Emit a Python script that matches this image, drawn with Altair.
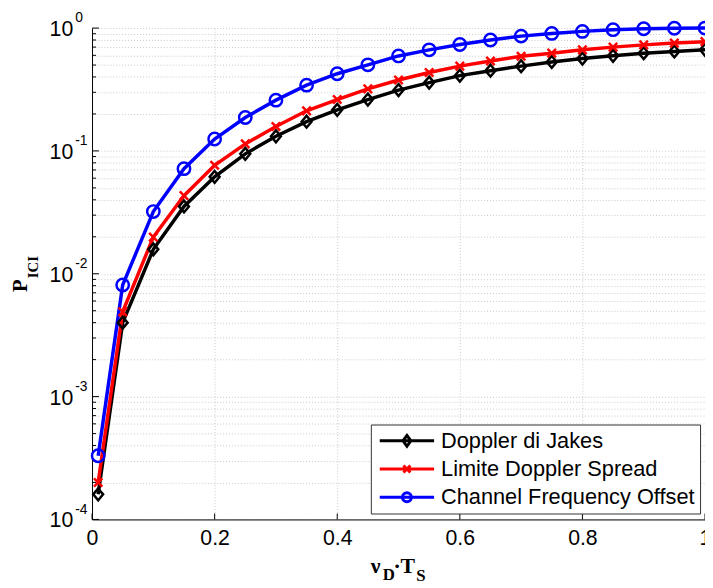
import altair as alt
import pandas as pd

# ---- data ----
nu = [0.01, 0.05, 0.10, 0.15, 0.20, 0.25, 0.30, 0.35, 0.40, 0.45, 0.50,
      0.55, 0.60, 0.65, 0.70, 0.75, 0.80, 0.85, 0.90, 0.95, 1.00]
jakes = [1.6e-4, 4.0e-3, 0.0158, 0.0353, 0.0615, 0.0947, 0.1315, 0.173, 0.216, 0.262, 0.313,
         0.360, 0.410, 0.450, 0.490, 0.530, 0.565, 0.595, 0.625, 0.645, 0.665]
limite = [2.0e-4, 4.9e-3, 0.0199, 0.0432, 0.0764, 0.114, 0.158, 0.212, 0.262, 0.320, 0.378,
          0.435, 0.490, 0.540, 0.590, 0.625, 0.665, 0.700, 0.730, 0.755, 0.775]
cfo = [3.3e-4, 8.1e-3, 0.0321, 0.0717, 0.125, 0.187, 0.259, 0.343, 0.425, 0.502, 0.593,
       0.665, 0.735, 0.800, 0.860, 0.905, 0.940, 0.970, 0.987, 0.997, 1.000]

series_names = ["Doppler di Jakes", "Limite Doppler Spread", "Channel Frequency Offset"]
series_colors = ["#000000", "#ff0000", "#0000ff"]

x_ticks = [0, 0.2, 0.4, 0.6, 0.8, 1.0]
y_major = [1e-4, 1e-3, 1e-2, 1e-1, 1.0]
y_exp = ["-4", "-3", "-2", "-1", "0"]
y_minor = [m * 10.0 ** k for k in range(-4, 0) for m in range(2, 10)]

rows = []
for name, vals in zip(series_names, [jakes, limite, cfo]):
    for x, v in zip(nu, vals):
        rows.append({"nu": x, "p": v, "series": name})
df = pd.DataFrame(rows)

W, H = 620, 497
xscale = alt.Scale(domain=[0, 1], nice=False, zero=False)
yscale = alt.Scale(type="log", domain=[1e-4, 1], nice=False)
cscale = alt.Scale(domain=series_names, range=series_colors)

# markers on the curves (size 100 -> 5 px per unit)
marker_paths = [
    "M0,-1.2L1,0L0,1.2L-1,0Z",
    "M-0.85,-0.85L0.85,0.85M-0.85,0.85L0.85,-0.85",
    "M1.25,0A1.25,1.25,0,1,1,-1.25,0A1.25,1.25,0,1,1,1.25,0Z",
]
# legend symbols: line + marker (size 400 -> 10 px per unit)
leg_line = "M-2.75,0H2.75"
leg_paths = [
    leg_line + "M0,-0.55L0.4,0L0,0.55L-0.4,0Z",
    leg_line + "M-0.35,-0.35L0.35,0.35M-0.35,0.35L0.35,-0.35",
    leg_line + "M0.45,0A0.45,0.45,0,1,1,-0.45,0A0.45,0.45,0,1,1,0.45,0Z",
]
sscale = alt.Scale(domain=series_names, range=leg_paths)

legend = alt.Legend(
    orient="none", legendX=282, legendY=401, title=None,
    labelFont="Liberation Sans", labelFontSize=22, labelColor="black", labelLimit=0,
    symbolSize=400, symbolStrokeWidth=3, symbolOffset=20, labelOffset=23,
    symbolFillColor="transparent", symbolOpacity=1,
    padding=5, rowPadding=5.5, strokeColor="#333333", fillColor="white",
)

grid_kw = dict(grid=True, gridColor="#c8c8c8", gridDash=[1, 2], gridWidth=1,
               domainColor="#000000", domainWidth=1, ticks=False, title=None)

xaxis = alt.Axis(values=x_ticks, labelFont="Liberation Sans", labelFontSize=21.5,
                 labelColor="black", labelPadding=25, labelBaseline="alphabetic",
                 labelFlush=False,
                 labelExpr="datum.value == 0 ? '0' : datum.value == 1 ? '1' : format(datum.value, '.1f')",
                 **grid_kw)
yaxis = alt.Axis(values=sorted(y_major + y_minor), labels=False, **grid_kw)

X = alt.X("nu:Q", scale=xscale, axis=xaxis)
Y = alt.Y("p:Q", scale=yscale, axis=yaxis)

base = alt.Chart(df)

# legend-only layer (draws no marks) -- first, so its legend wins the merge
legend_layer = base.transform_filter("false").mark_point(
    filled=False, strokeWidth=3, size=400, opacity=1).encode(
    x=X, y=Y,
    color=alt.Color("series:N", scale=cscale, legend=legend),
    shape=alt.Shape("series:N", scale=sscale, legend=legend),
)

lines = base.mark_line(strokeWidth=3.5).encode(
    x=X, y=Y,
    color=alt.Color("series:N", scale=cscale, legend=None),
)

point_layers = []
for name, path in zip(series_names, marker_paths):
    point_layers.append(
        base.transform_filter(alt.datum.series == name).mark_point(
            shape=path, filled=False, strokeWidth=2.5, size=100, opacity=1
        ).encode(x=X, y=Y, color=alt.Color("series:N", scale=cscale, legend=None))
    )

# inward ticks
maj_df = pd.DataFrame({"p": y_major, "exp": y_exp, "base": ["10"] * len(y_major)})
min_df = pd.DataFrame({"p": y_minor})
xt_df = pd.DataFrame({"nu": x_ticks})

ytick_major = alt.Chart(maj_df).mark_rule(color="black", strokeWidth=1).encode(
    y=Y, x=alt.value(0), x2=alt.value(7))
ytick_minor = alt.Chart(min_df).mark_rule(color="black", strokeWidth=1).encode(
    y=Y, x=alt.value(0), x2=alt.value(4))
xtick = alt.Chart(xt_df).mark_rule(color="black", strokeWidth=1).encode(
    x=X, y=alt.value(H), y2=alt.value(H - 6))

ylab_base = alt.Chart(maj_df).mark_text(
    font="Liberation Sans", fontSize=21.5, align="right", baseline="alphabetic", dy=8, color="black"
).encode(y=Y, x=alt.value(-19), text="base:N")
ylab_exp = alt.Chart(maj_df).mark_text(
    font="Liberation Sans", fontSize=14, align="left", baseline="alphabetic", dy=-6, color="black"
).encode(y=Y, x=alt.value(-17), text="exp:N")

one = alt.Data(values=[{"k": 1}])
serif = "Liberation Serif"

def txt(s, x, y, size, angle=0):
    kw = dict(text=s, font=serif, fontWeight="bold", fontSize=size, align="left",
              baseline="alphabetic", color="black")
    if angle:
        kw["angle"] = angle
    return alt.Chart(one).mark_text(**kw).encode(x=alt.value(x), y=alt.value(y))

titles = [
    txt("P", -66, 267, 21, 270),
    txt("ICI", -55, 253, 15, 270),
    txt("\u03bd", 282, 551, 22),
    txt("D", 294, 558, 17),
    txt("\u00b7", 305, 551, 22),
    txt("T", 312, 551, 22),
    txt("S", 328, 559, 17),
]

chart = alt.layer(
    legend_layer, lines, ytick_major, ytick_minor, xtick, *point_layers,
    ylab_base, ylab_exp, *titles
).properties(
    width=W, height=H,
    autosize=alt.AutoSizeParams(type="none"),
    padding={"left": 85, "top": 17, "right": 0, "bottom": 63},
    background="white",
).configure_view(stroke=None)

chart.save("out.html", embed_options={"renderer": "svg", "actions": False})
